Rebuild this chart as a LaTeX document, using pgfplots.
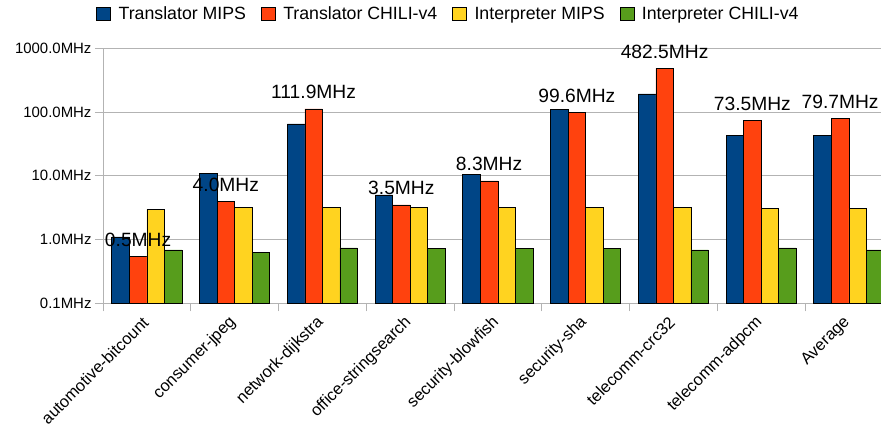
\documentclass[border=0pt]{standalone}
\usepackage{fontspec}
\setmainfont{Liberation Sans}
\usepackage{pgfplots}
\usepackage{pgfplotstable}
\pgfplotsset{compat=1.18}
\definecolor{cblue}{HTML}{004586}
\definecolor{cred}{HTML}{FF420E}
\definecolor{cyellow}{HTML}{FFD320}
\definecolor{cgreen}{HTML}{579D1C}
\definecolor{gridc}{HTML}{B3B3B3}

\pgfplotstableread{
x tm tc im ic lab
0 1.1 0.54 3.0 0.69 0.5MHz
1 10.9 4.0 3.2 0.63 4.0MHz
2 65 111.9 3.2 0.74 111.9MHz
3 5.0 3.5 3.2 0.73 3.5MHz
4 10.5 8.3 3.2 0.73 8.3MHz
5 110 99.6 3.15 0.73 99.6MHz
6 193 482.5 3.15 0.69 482.5MHz
7 43.5 73.5 3.08 0.74 73.5MHz
8 43.5 79.7 3.08 0.69 79.7MHz
}\data

\pgfplotsset{mylegend/.style={legend image code/.code={\draw[##1, draw=black, line width=0.6bp] (0bp,-6.5bp) rectangle (14bp,6.5bp);}}}

\begin{document}
\begin{tikzpicture}
\begin{axis}[
 scale only axis, width=789.75bp, height=255bp,
 ymode=log, log origin=infty, ymin=0.1, ymax=1000,
 xmin=-0.5, xmax=8.5,
 ybar=0pt, bar width=17.55bp,
 axis x line*=bottom, axis y line*=left,
 axis line style={draw=gridc, line width=0.8bp},
 ytick={0.1,1,10,100,1000},
 yticklabels={0.1MHz,1.0MHz,10.0MHz,100.0MHz,1000.0MHz},
 ymajorgrids, grid style={draw=gridc, line width=0.8bp},
 xtick={-0.5,0.5,...,8.5}, xticklabels={},
 tick align=outside, major tick length=8bp,
 tick style={draw=gridc, line width=0.8bp},
 yminorticks=false,
 extra x ticks={0,1,2,3,4,5,6,7,8},
 extra x tick labels={automotive-bitcount,consumer-jpeg,network-dijkstra,office-stringsearch,security-blowfish,security-sha,telecomm-crc32,telecomm-adpcm,Average},
 extra x tick style={major tick length=0pt, grid=none,
   xticklabel style={xshift=1bp, yshift=-14bp, rotate=45, anchor=east, font=\fontsize{16.5}{19}\selectfont}},
 yticklabel style={font=\fontsize{15}{18}\selectfont, text=black},
 legend columns=4,
 legend style={at={(0.4362,1.1345)}, anchor=center, draw=none, fill=none,
   font=\fontsize{17.8}{20}\selectfont,
   nodes={inner xsep=0pt},
   /tikz/every even column/.append style={column sep=15bp},
   /tikz/every odd column/.append style={column sep=7.6bp}},
]
\addplot[fill=cblue, draw=black, line width=0.6bp, mylegend] table[x=x, y=tm]{\data};
\addplot[fill=cred, draw=black, line width=0.6bp, mylegend,
  nodes near coords, point meta=explicit symbolic,
  nodes near coords style={anchor=base, inner sep=0pt, yshift=10bp, font=\fontsize{19.3}{22}\selectfont, text=black}]
  table[x=x, y=tc, meta=lab]{\data};
\addplot[fill=cyellow, draw=black, line width=0.6bp, mylegend] table[x=x, y=im]{\data};
\addplot[fill=cgreen, draw=black, line width=0.6bp, mylegend] table[x=x, y=ic]{\data};
\legend{Translator MIPS, Translator CHILI-v4, Interpreter MIPS, Interpreter CHILI-v4}
\end{axis}
\pgfresetboundingbox
\path[use as bounding box] (-103bp,-124.7bp) rectangle (778bp,303.3bp);
\end{tikzpicture}
\end{document}
